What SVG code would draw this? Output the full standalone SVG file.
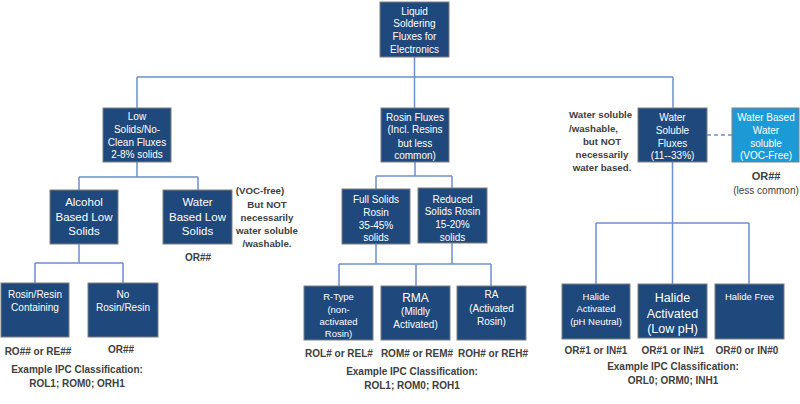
<svg xmlns="http://www.w3.org/2000/svg" width="800" height="404" viewBox="0 0 800 404">
<style>
.box{fill:#1f487c;stroke:#7f7f7f;stroke-width:1}
.lbox{fill:#1c9ad6;stroke:#7f7f7f;stroke-width:1}
.bt{font-family:"Liberation Sans",Arial,sans-serif;font-size:10px;fill:#ffffff;text-anchor:middle}
.bl{font-size:11.5px}
.bs{font-size:9.5px}
.lab{font-family:"Liberation Sans",Arial,sans-serif;font-size:10px;font-weight:bold;fill:#404040;text-anchor:middle}
.ann{font-family:"Liberation Sans",Arial,sans-serif;font-size:9.7px;font-weight:bold;fill:#404040}
.con{fill:none;stroke:#6d8fd1;stroke-width:1.5}
</style>
<rect width="800" height="404" fill="#ffffff"/>
<g id="connectors">
<path class="con" d="M414.5 57V108M137 77H673M137 77V108M673 77V108"/>
<path class="con" d="M707 135H732" stroke-dasharray="4 3"/>
<path class="con" d="M137 162V177M79 177H198M79 177V190M198 177V190"/>
<path class="con" d="M79 244V263M35 263H123M35 263V283M123 263V283"/>
<path class="con" d="M415 162V176M376 176H452M376 176V189M452 176V188"/>
<path class="con" d="M376 244V264M452 243V264M339 264H491M339 264V286M416 264V286M491 264V286"/>
<path class="con" d="M672.5 162V284M596 223H749M596 223V284M749 223V284"/>
</g>
<g id="root">
<rect class="box" x="380" y="2" width="69" height="55"/>
<text class="bt"><tspan x="414.5" y="14.5">Liquid</tspan><tspan x="414.5" y="27">Soldering</tspan><tspan x="414.5" y="39.5">Fluxes for</tspan><tspan x="414.5" y="52.5">Electronics</tspan></text>
</g>
<g id="low-solids">
<rect class="box" x="103" y="108" width="68" height="54"/>
<text class="bt"><tspan x="137" y="119.5">Low</tspan><tspan x="137" y="132.5">Solids/No-</tspan><tspan x="137" y="145.5">Clean Fluxes</tspan><tspan x="137" y="157.5">2-8% solids</tspan></text>
</g>
<g id="rosin-fluxes">
<rect class="box" x="381" y="108" width="68" height="54"/>
<text class="bt"><tspan x="415" y="120.5">Rosin Fluxes</tspan><tspan x="415" y="132.5">(Incl. Resins</tspan><tspan x="415" y="146.5">but less</tspan><tspan x="415" y="158.5">common)</tspan></text>
</g>
<g id="water-soluble">
<rect class="box" x="638" y="108" width="69" height="54"/>
<text class="bt"><tspan x="672.5" y="120.5">Water</tspan><tspan x="672.5" y="133.5">Soluble</tspan><tspan x="672.5" y="146.5">Fluxes</tspan><tspan x="672.5" y="158.5">(11--33%)</tspan></text>
<text class="ann"><tspan x="569" y="118">Water soluble</tspan><tspan x="569" y="132">/washable,</tspan><tspan x="602" y="145" text-anchor="middle">but NOT</tspan><tspan x="602" y="158" text-anchor="middle">necessarily</tspan><tspan x="602" y="171" text-anchor="middle">water based.</tspan></text>
</g>
<g id="water-based-water-soluble">
<rect class="lbox" x="732" y="108" width="67" height="54"/>
<text class="bt"><tspan x="766" y="120.5">Water Based</tspan><tspan x="766" y="133.5">Water</tspan><tspan x="766" y="146.5">soluble</tspan><tspan x="766" y="158.5">(VOC-Free)</tspan></text>
<text class="lab" x="766" y="180" style="font-size:11px">OR##</text>
<text class="lab" x="766" y="194" style="font-weight:normal">(less common)</text>
</g>
<g id="alcohol-based">
<rect class="box" x="50" y="190" width="68" height="54"/>
<text class="bt bl"><tspan x="84" y="206">Alcohol</tspan><tspan x="84" y="221">Based Low</tspan><tspan x="84" y="235">Solids</tspan></text>
</g>
<g id="water-based-low">
<rect class="box" x="163" y="190" width="69" height="54"/>
<text class="bt bl"><tspan x="197.5" y="206">Water</tspan><tspan x="197.5" y="221">Based Low</tspan><tspan x="197.5" y="235">Solids</tspan></text>
<text class="lab" x="198" y="261">OR##</text>
<text class="ann" text-anchor="middle"><tspan x="260" y="194">(VOC-free)</tspan><tspan x="267" y="208">But NOT</tspan><tspan x="267" y="221">necessarily</tspan><tspan x="267" y="234">water soluble</tspan><tspan x="267" y="247">/washable.</tspan></text>
</g>
<g id="rosin-containing">
<rect class="box" x="1" y="283" width="68" height="54"/>
<text class="bt"><tspan x="35" y="297.5">Rosin/Resin</tspan><tspan x="35" y="310.5">Containing</tspan></text>
<text class="lab" x="38" y="355">RO## or RE##</text>
</g>
<g id="no-rosin">
<rect class="box" x="88" y="283" width="70" height="54"/>
<text class="bt"><tspan x="123" y="297.5">No</tspan><tspan x="123" y="310.5">Rosin/Resin</tspan></text>
<text class="lab" x="121" y="353">OR##</text>
<text class="lab"><tspan x="77" y="373">Example IPC Classification:</tspan><tspan x="77" y="387">ROL1; ROM0; ORH1</tspan></text>
</g>
<g id="full-solids">
<rect class="box" x="342" y="189" width="68" height="55"/>
<text class="bt"><tspan x="376" y="202.5">Full Solids</tspan><tspan x="376" y="215.5">Rosin</tspan><tspan x="376" y="228.5">35-45%</tspan><tspan x="376" y="240.5">solids</tspan></text>
</g>
<g id="reduced-solids">
<rect class="box" x="418" y="188" width="69" height="55"/>
<text class="bt"><tspan x="452.5" y="202.5">Reduced</tspan><tspan x="452.5" y="214.5">Solids Rosin</tspan><tspan x="452.5" y="227.5">15-20%</tspan><tspan x="452.5" y="240.5">solids</tspan></text>
</g>
<g id="r-type">
<rect class="box" x="304" y="286" width="69" height="54"/>
<text class="bt bs"><tspan x="338.5" y="299.5">R-Type</tspan><tspan x="338.5" y="312.5">(non-</tspan><tspan x="338.5" y="324.5">activated</tspan><tspan x="338.5" y="337">Rosin)</tspan></text>
<text class="lab" x="339" y="357">ROL# or REL#</text>
</g>
<g id="rma">
<rect class="box" x="381" y="286" width="69" height="54"/>
<text class="bt"><tspan x="415.5" y="302" style="font-size:12px">RMA</tspan><tspan x="415.5" y="314.5">(Mildly</tspan><tspan x="415.5" y="327.5">Activated)</tspan></text>
<text class="lab" x="417" y="357">ROM# or REM#</text>
<text class="lab"><tspan x="412" y="375">Example IPC Classification:</tspan><tspan x="412" y="389">ROL1; ROM0; ROH1</tspan></text>
</g>
<g id="ra">
<rect class="box" x="457" y="286" width="69" height="54"/>
<text class="bt"><tspan x="491.5" y="297.5">RA</tspan><tspan x="491.5" y="311.5">(Activated</tspan><tspan x="491.5" y="324.5">Rosin)</tspan></text>
<text class="lab" x="493" y="357">ROH# or REH#</text>
</g>
<g id="halide-neutral">
<rect class="box" x="562" y="284" width="68" height="55"/>
<text class="bt bs"><tspan x="596" y="299.5">Halide</tspan><tspan x="596" y="311.5">Activated</tspan><tspan x="596" y="324.5">(pH Neutral)</tspan></text>
<text class="lab" x="596" y="354">OR#1 or IN#1</text>
</g>
<g id="halide-low-ph">
<rect class="box" x="638" y="284" width="69" height="54"/>
<text class="bt" style="font-size:12.5px"><tspan x="672.5" y="301.5">Halide</tspan><tspan x="672.5" y="317.5">Activated</tspan><tspan x="672.5" y="332.5">(Low pH)</tspan></text>
<text class="lab" x="673" y="354">OR#1 or IN#1</text>
<text class="lab"><tspan x="673" y="370">Example IPC Classification:</tspan><tspan x="673" y="384">ORL0; ORM0; INH1</tspan></text>
</g>
<g id="halide-free">
<rect class="box" x="715" y="284" width="69" height="55"/>
<text class="bt bs" x="749.5" y="299.5">Halide Free</text>
<text class="lab" x="747" y="354">OR#0 or IN#0</text>
</g>
</svg>
